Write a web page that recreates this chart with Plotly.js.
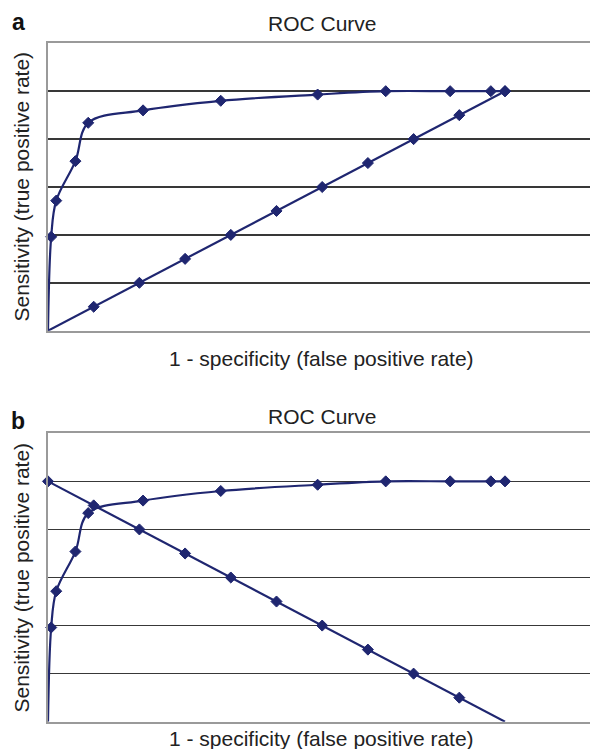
<!DOCTYPE html>
<html>
<head>
<meta charset="utf-8">
<script src="https://cdn.plot.ly/plotly-3.0.1.min.js"></script>
<style>html,body{margin:0;padding:0;background:#fff;}#chart{width:590px;height:749px;}</style>
</head>
<body>
<div id="chart"></div>
<script>
// ROC curve (same in both panels)
var curveFpr = [0, 0.007, 0.018, 0.06, 0.088, 0.208, 0.378, 0.59, 0.739, 0.88, 0.969, 1.0];
var curveTpr = [0, 0.392, 0.543, 0.708, 0.868, 0.92, 0.96, 0.986, 1.0, 1.0, 1.0, 1.0];
// reference line x values
var refX = [0, 0.1, 0.2, 0.3, 0.4, 0.5, 0.6, 0.7, 0.8, 0.9, 1.0];
// panel a: chance diagonal (rising)
var refYa = [0, 0.1, 0.2, 0.3, 0.4, 0.5, 0.6, 0.7, 0.8, 0.9, 1.0];
// panel b: falling line
var refYb = [1.0, 0.9, 0.8, 0.7, 0.6, 0.5, 0.4, 0.3, 0.2, 0.1, 0];
var gridVals = [0.2, 0.4, 0.6, 0.8, 1.0];
var panelLabels = ["a", "b"];
var chartTitle = "ROC Curve";
var xTitle = "1 - specificity (false positive rate)";
var yTitle = "Sensitivity (true positive rate)";

var W = 590, H = 749, L = 48;
var navy = "#1f2670";
var FONT = "Liberation Sans, Arial, Helvetica, sans-serif";
function sizes(ys){ return ys.map(function(v){ return v === 0 ? 0 : 8.5; }); }
function px2x(px){ return (px - L) / (W - L); }
function py2y(py){ return 1 - py / H; }

function trace(x, y, xa, ya, shape){
  return {x: x, y: y, xaxis: xa, yaxis: ya, type: "scatter", mode: "lines+markers",
    line: {color: navy, width: 2.2, shape: shape, smoothing: 1},
    marker: {symbol: "diamond", color: navy, size: sizes(y), opacity: 1, line: {color: navy, width: 1}},
    cliponaxis: false, hoverinfo: "skip", showlegend: false};
}

var data = [
  trace(curveFpr, curveTpr, "x", "y", "spline"),
  trace(refX, refYa, "x", "y", "linear"),
  trace(curveFpr, curveTpr, "x2", "y2", "spline"),
  trace(refX, refYb, "x2", "y2", "linear")
];

function xax(dom){
  return {domain: [0, 1], anchor: dom, range: [0, 1.186], showgrid: false, zeroline: false,
    showticklabels: false, ticks: "", showline: true, mirror: true, linecolor: "#9a9a9a", linewidth: 2, fixedrange: true};
}
function yax(dom, anchor){
  return {domain: dom, anchor: anchor, range: [0, 1.2], tickvals: gridVals, showgrid: true,
    gridcolor: "#383838", gridwidth: 1.5, zeroline: false, showticklabels: false, ticks: "",
    showline: true, mirror: false, linecolor: "#9a9a9a", linewidth: 2, fixedrange: true};
}

var txt = "#222222";
function ann(text, xpx, ypx, size, opts){
  var a = {text: text, xref: "paper", yref: "paper", x: px2x(xpx), y: py2y(ypx),
    xanchor: "center", yanchor: "middle", showarrow: false,
    font: {family: FONT, size: size, color: txt}};
  for (var k in (opts || {})) a[k] = opts[k];
  return a;
}

var layout = {
  width: W, height: H,
  margin: {l: L, r: 0, t: 0, b: 0},
  paper_bgcolor: "#ffffff", plot_bgcolor: "#ffffff",
  xaxis: xax("y"),
  yaxis: yax([py2y(330.7), py2y(43.3)], "x"),
  xaxis2: xax("y2"),
  yaxis2: yax([py2y(721.7), py2y(433.3)], "x2"),
  annotations: [
    ann("<b>" + panelLabels[0] + "</b>", 18, 22, 23, {font: {family: FONT, size: 23, color: "#111"}}),
    ann("<b>" + panelLabels[1] + "</b>", 18, 421, 23, {font: {family: FONT, size: 23, color: "#111"}}),
    ann(chartTitle, 322, 23, 21),
    ann(chartTitle, 322, 416, 21),
    ann(xTitle, 321.5, 358.5, 21),
    ann(xTitle, 321.5, 738, 21),
    ann(yTitle, 21, 186.5, 21, {textangle: -90}),
    ann(yTitle, 21, 577.5, 21, {textangle: -90})
  ]
};

Plotly.newPlot("chart", data, layout, {displayModeBar: false, staticPlot: true});
</script>
</body>
</html>
